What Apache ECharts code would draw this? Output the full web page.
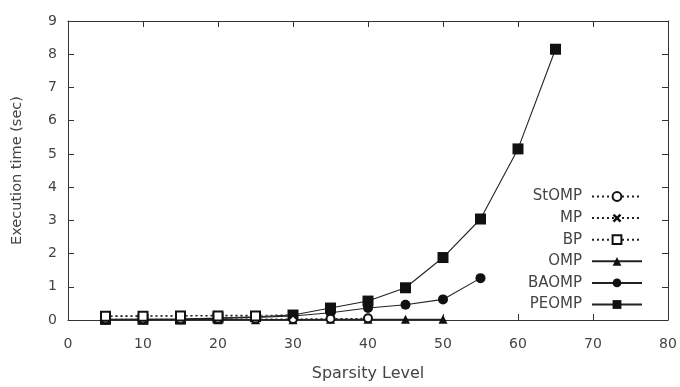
<!DOCTYPE html>
<html><head><meta charset="utf-8">
<script src="https://cdn.jsdelivr.net/npm/echarts@6/dist/echarts.min.js"></script>
<style>html,body{margin:0;padding:0;background:#fff}#c{width:680px;height:387px}</style>
</head><body><div id="c"></div>
<script>
const sparsity = [5,10,15,20,25,30,35,40,45,50,55,60,65];
const stomp = [0.02,0.02,0.02,0.03,0.03,0.03,0.04,0.05];
const mp    = [0.12,0.13,0.13,0.14,0.14,0.15];
const bp    = [0.11,0.11,0.12,0.12,0.12];
const omp   = [0.01,0.01,0.01,0.01,0.01,0.01,0.02,0.02,0.02,0.02];
const baomp = [0.01,0.02,0.03,0.05,0.08,0.12,0.22,0.36,0.46,0.62,1.26];
const peomp = [0.02,0.02,0.03,0.06,0.10,0.15,0.36,0.57,0.97,1.88,3.04,5.15,8.15];
const xTicks = [0,10,20,30,40,50,60,70,80];
const yTicks = [0,1,2,3,4,5,6,7,8,9];

const pts = arr => arr.map((v,i)=>[sparsity[i], v]);
const crossPath = 'path://M0,2L2,0L5,3L8,0L10,2L7,5L10,8L8,10L5,7L2,10L0,8L3,5Z';
const font = 'DejaVu Sans';
const txt = '#444';
const axisCol = '#333';

function mk(name, data, symbol, size, dotted, hollow) {
  return {
    name, type:'line', data: pts(data), symbol, symbolSize:size,
    showAllSymbol:true,
    lineStyle:{color:'#222', width:1.1, type: dotted?[2,3]:'solid'},
    itemStyle:{color: hollow?'#fff':'#111', borderColor:'#111', borderWidth: hollow?2:0},
    emphasis:{disabled:true}, animation:false, z: dotted?3:2
  };
}
const baseAxis = {
  axisLine:{show:true, onZero:false, lineStyle:{color:axisCol,width:1}},
  axisTick:{show:true, inside:true, length:6, lineStyle:{color:axisCol}},
  splitLine:{show:false}
};

const chart = echarts.init(document.getElementById('c'));
chart.setOption({
  animation:false,
  textStyle:{fontFamily:font},
  grid:{left:68,right:12,top:21,bottom:66},
  xAxis:[Object.assign({
    type:'value', min:0, max:80, interval:10, position:'bottom',
    name:'Sparsity Level', nameLocation:'middle', nameGap:46,
    nameTextStyle:{color:txt, fontSize:16, fontFamily:font},
    axisLabel:{color:txt, fontSize:14, margin:17, fontFamily:font, formatter: v => xTicks.includes(v)? String(v):''}
  }, baseAxis), Object.assign({
    type:'value', min:0, max:80, interval:10, position:'top',
    axisLabel:{show:false}
  }, baseAxis)],
  yAxis:[Object.assign({
    type:'value', min:0, max:9, interval:1, position:'left',
    name:'Execution time (sec)', nameLocation:'middle', nameGap:43, nameRotate:90,
    nameTextStyle:{color:txt, fontSize:14.5, fontFamily:font},
    axisLabel:{color:txt, fontSize:14, margin:11, fontFamily:font, formatter: v => yTicks.includes(v)? String(v):''}
  }, baseAxis), Object.assign({
    type:'value', min:0, max:9, interval:1, position:'right',
    axisLabel:{show:false}
  }, baseAxis)],
  legend:{
    orient:'vertical', right:32, top:184, align:'right',
    itemWidth:50, itemHeight:11, itemGap:6.6,
    textStyle:{color:txt, fontSize:15, fontFamily:font, padding:[0,5,0,0]},
    data:['StOMP','MP','BP','OMP','BAOMP','PEOMP'],
    selectedMode:false
  },
  series:[
    mk('StOMP', stomp, 'circle', 8, true, true),
    mk('MP', mp, crossPath, 9, true, false),
    mk('BP', bp, 'rect', 9, true, true),
    mk('OMP', omp, 'triangle', 9, false, false),
    mk('BAOMP', baomp, 'circle', 10, false, false),
    mk('PEOMP', peomp, 'rect', 11, false, false)
  ]
});
</script></body></html>
